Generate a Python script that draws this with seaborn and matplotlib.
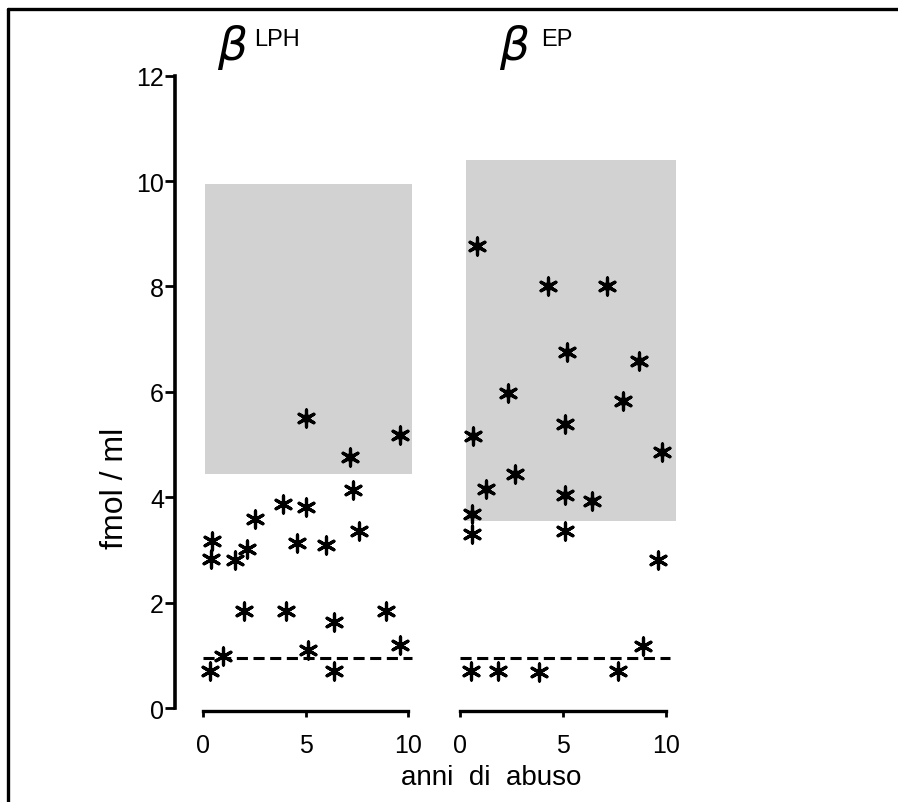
import matplotlib
matplotlib.use("Agg")
import matplotlib.pyplot as plt
import seaborn as sns
from matplotlib.patches import Rectangle
from matplotlib.lines import Line2D

# anni di abuso vs fmol/ml
lph_years = [0.34, 0.4, 0.45, 0.98, 1.55, 1.98, 2.14, 2.53, 3.88, 4.04, 4.56, 5.04,
             5.1, 5.0, 6.0, 6.38, 6.38, 7.18, 7.34, 7.62, 8.95, 9.6, 9.6]
lph_fmol = [0.70, 2.83, 3.17, 0.99, 2.80, 1.85, 3.02, 3.59, 3.87, 1.85, 3.14, 3.82,
            1.10, 5.50, 3.09, 1.63, 0.71, 4.76, 4.14, 3.36, 1.85, 1.20, 5.18]

ep_years = [0.81, 4.29, 7.12, 5.18, 8.7, 2.35, 7.9, 5.1, 0.65, 9.8, 2.67, 1.26,
            5.1, 6.39, 0.6, 0.6, 5.1, 9.63, 8.9, 0.52, 1.86, 3.83, 7.68]
ep_fmol = [8.77, 8.01, 8.01, 6.76, 6.59, 5.98, 5.83, 5.39, 5.17, 4.85, 4.44, 4.16,
           4.04, 3.93, 3.68, 3.31, 3.36, 2.81, 1.18, 0.71, 0.71, 0.69, 0.71]

# shaded normal ranges and dashed line
lph_range_x = [0.1, 10.2]
lph_range_y = [4.45, 9.95]
ep_range_x = [0.3, 10.5]
ep_range_y = [3.55, 10.4]
limit_y = 0.95
limit_x = [0.0, 10.2]

y_ticks = [0, 2, 4, 6, 8, 10, 12]
x_ticks = [0, 5, 10]

sns.set_style("ticks", {'axes.edgecolor': 'black', 'text.color': 'black',
                        'xtick.color': 'black', 'ytick.color': 'black',
                        'axes.labelcolor': 'black'})
plt.rcParams['font.family'] = ['Liberation Sans Narrow', 'Liberation Sans', 'DejaVu Sans']
plt.rcParams['lines.scale_dashes'] = False
plt.rcParams['hatch.color'] = '#9a9a9a'
plt.rcParams['hatch.linewidth'] = 1.0

W, H = 898, 803
fig = plt.figure(figsize=(W / 100, H / 100), dpi=100)


def axes_px(left, right, top, bottom):
    return fig.add_axes([left / W, 1 - bottom / H, (right - left) / W, (bottom - top) / H])


ylim = (-0.06, 12.3)
ax1 = axes_px(175, 424.4, 60.8, 712.2)
ax2 = axes_px(453.8, 684.5, 60.8, 712.2)
ax1.set_xlim(-1.37, 10.8)
ax2.set_xlim(-0.3, 10.9)

panels = [(ax1, lph_years, lph_fmol, lph_range_x, lph_range_y),
          (ax2, ep_years, ep_fmol, ep_range_x, ep_range_y)]

for ax, xs, ys, rx, ry in panels:
    ax.set_ylim(*ylim)
    ax.patch.set_alpha(0)
    ax.add_patch(Rectangle((rx[0], ry[0]), rx[1] - rx[0], ry[1] - ry[0],
                           facecolor='#d2d2d2', edgecolor='none', hatch='....',
                           linewidth=0, zorder=1))
    ax.plot(limit_x, [limit_y, limit_y], color='black', lw=2.2,
            linestyle=(0, (8, 4)), zorder=2)
    sns.scatterplot(x=xs, y=ys, marker=(6, 2, 0), s=150, color='black',
                    linewidth=2.3, ax=ax, zorder=3)
    inside = [(x, y) for x, y in zip(xs, ys) if rx[0] <= x <= rx[1] and ry[0] <= y <= ry[1]]
    sns.scatterplot(x=[p[0] for p in inside], y=[p[1] for p in inside], marker=(6, 1, 0),
                    s=110, color='black', edgecolor='black', linewidth=0.5, ax=ax, zorder=4)
    ax.set_xticks(x_ticks)
    ax.set_xticklabels([str(t) for t in x_ticks], fontsize=18)
    ax.tick_params(axis='x', direction='out', length=4, width=2, pad=12, colors='black')
    ax.spines['bottom'].set_bounds(0, 10)
    ax.spines['bottom'].set_linewidth(2.4)
    ax.spines['top'].set_visible(False)
    ax.spines['right'].set_visible(False)
    ax.set_xlabel('')
    ax.set_ylabel('')

ax1.set_yticks(y_ticks)
ax1.set_yticklabels([str(t) for t in y_ticks], fontsize=18)
ax1.tick_params(axis='y', direction='out', length=7, width=2, pad=1, colors='black')
ax1.spines['left'].set_bounds(0, 12)
ax1.spines['left'].set_linewidth(2.6)
ax2.spines['left'].set_visible(False)
ax2.set_yticks([])

# texts
fig.text(115 / W, 1 - 488 / H, 'fmol / ml', rotation=90, fontsize=23,
         ha='center', va='center')
fig.text(491 / W, 1 - 778 / H, 'anni  di  abuso', fontsize=20, ha='center', va='center')
fig.text(232 / W, 1 - 48 / H, 'β', fontsize=34, style='italic', family='DejaVu Sans',
         ha='center', va='center')
fig.text(254 / W, 1 - 40 / H, 'LPH', fontsize=17, ha='left', va='center')
fig.text(514 / W, 1 - 48 / H, 'β', fontsize=34, style='italic', family='DejaVu Sans',
         ha='center', va='center')
fig.text(541 / W, 1 - 40 / H, 'EP', fontsize=17, ha='left', va='center')

# frame around the figure (top and left visible)
fig.add_artist(Line2D([8 / W, 1], [1 - 10 / H, 1 - 10 / H], color='black', lw=2.4,
                      transform=fig.transFigure))
fig.add_artist(Line2D([8 / W, 8 / W], [0, 1 - 10 / H], color='black', lw=2.4,
                      transform=fig.transFigure))

fig.savefig('out.png', dpi=100)
